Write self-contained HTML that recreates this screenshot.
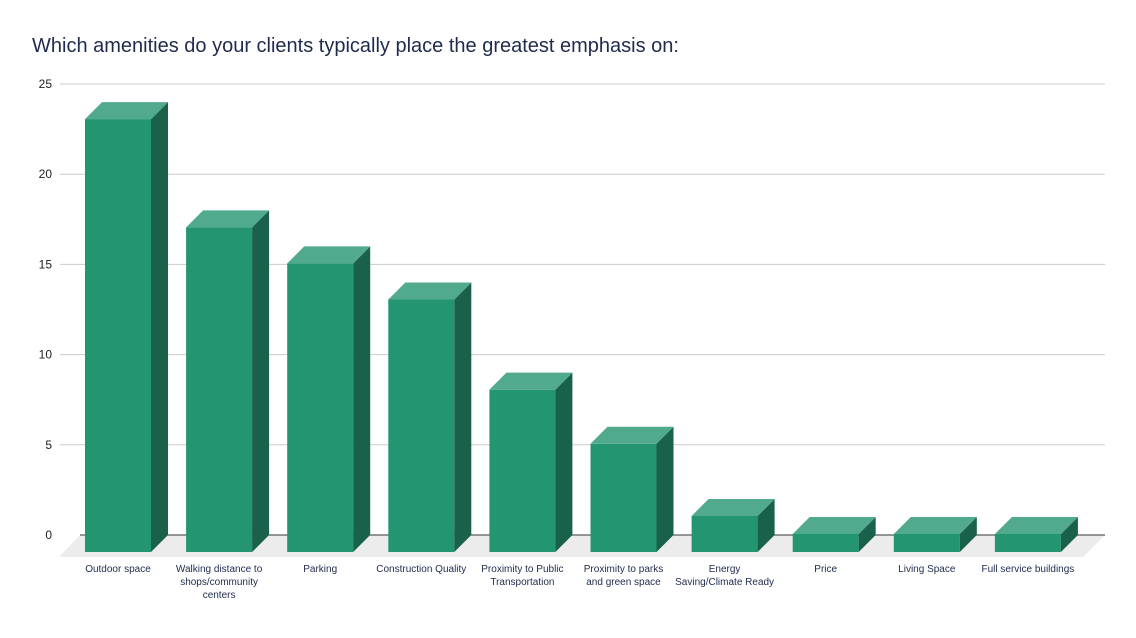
<!DOCTYPE html>
<html><head><meta charset="utf-8"><style>
body{margin:0;background:#fff;font-family:"Liberation Sans",sans-serif}
</style></head><body>
<svg width="1136" height="633" xmlns="http://www.w3.org/2000/svg">
<text x="32" y="52" font-size="20" fill="#1e2b4d">Which amenities do your clients typically place the greatest emphasis on:</text>
<g id="grid"></g><g id="bars"></g><g id="labels"></g>
</svg>
<script>
const categories=[["Outdoor space"],["Walking distance to","shops/community","centers"],["Parking"],["Construction Quality"],["Proximity to Public","Transportation"],["Proximity to parks","and green space"],["Energy","Saving/Climate Ready"],["Price"],["Living Space"],["Full service buildings"]];
const values=[23,17,15,13,8,5,1,0,0,0];
const ticks=[0,5,10,15,20,25];
const NS="http://www.w3.org/2000/svg";
const k=18.04, y0=535, fy0=534;
const yAxis=v=>y0-v*k;
const xAxis=i=>85+i*101.1;
function mk(t,a,p){const e=document.createElementNS(NS,t);for(const n in a)e.setAttribute(n,a[n]);p.appendChild(e);return e;}
const grid=document.getElementById('grid'),bars=document.getElementById('bars'),labels=document.getElementById('labels');
const floor=mk('polygon',{points:"80,535 1105,535 1083,557 59,557",fill:"#ececec"},grid);


ticks.forEach(t=>{
 const y=yAxis(t);
 const l=mk('line',{x1:t===0?80:60,x2:1105,y1:y,y2:y,stroke:t===0?"#333":"#ccc","stroke-width":1},grid);
 
 
 const tx=mk('text',{x:52,y:y+4,"font-size":12,fill:"#222","text-anchor":"end"},grid);
 tx.textContent=t;
 
 
});
values.forEach((v,i)=>{
 const x=xAxis(i),w=66,d=17,top=fy0-v*k,bot=552;
 const g=mk('g',{},bars);
 
 
 mk('rect',{x:x,y:top,width:w,height:bot-top,fill:"#239671"},g);
 mk('polygon',{points:`${x+w},${top} ${x+w+d},${top-d} ${x+w+d},${bot-d} ${x+w},${bot}`,fill:"#1a614b"},g);
 mk('polygon',{points:`${x},${top} ${x+d},${top-d} ${x+w+d},${top-d} ${x+w},${top}`,fill:"#52aa8e"},g);
 const t=mk('text',{x:x+w/2,y:572,"font-size":10,fill:"#1e2b4d","text-anchor":"middle"},labels);
 
 
 categories[i].forEach((s,j)=>{const ts=mk('tspan',{x:x+w/2,dy:j?13:0},t);ts.textContent=s;});
});
</script>
</body></html>
